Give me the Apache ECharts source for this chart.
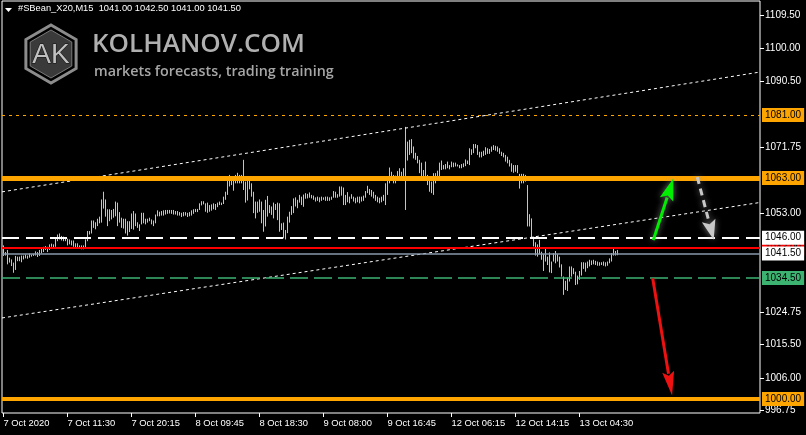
<!DOCTYPE html>
<html><head><meta charset="utf-8">
<script src="https://cdn.jsdelivr.net/npm/echarts@6/dist/echarts.min.js"></script>
<style>html,body{margin:0;padding:0;background:#000;}#c{width:806px;height:435px;}</style>
</head><body><div id="c"></div>
<script>
// ---- data ----
const timeLabels = ["7 Oct 2020","7 Oct 11:30","7 Oct 20:15","8 Oct 09:45","8 Oct 18:30","9 Oct 08:00","9 Oct 16:45","12 Oct 06:15","12 Oct 14:15","13 Oct 04:30"];
const timeLabelBars = [0,32,64,96,128,160,192,224,256,288];
const priceTicks = [1109.5,1100,1090.5,1071.75,1053,1024.75,1015.5,1006,996.75];

const highs = [
1043.8,1041.9,1042.5,1040.3,1039.8,1038.9,1040.8,1040.6,1040.6,1040.9,1040.9,1041.2,1040.9,1041.5,1041.2,1041.4,1042.1,1041.9,1042.5,1042.8,
1043.4,1043.6,1043.4,1044.1,1044.3,1044.1,1045.8,1046.9,1047.2,1046.5,1046.3,1046.0,1045.7,1045.5,1045.2,1045.2,1044.4,1044.4,1043.8,1043.8,
1043.8,1045.5,1047.9,1047.9,1050.9,1050.9,1050.4,1051.4,1052.0,1056.9,1059.1,
1056.9,1054.1,1054.1,1053.9,1054.2,1056.3,1056.0,1053.3,1051.7,1051.4,1051.4,1050.7,1050.7,1052.9,1053.6,1052.9,1050.4,1049.8,1053.1,1053.1,
1051.4,1051.4,1051.7,1051.2,1050.9,1052.6,1053.8,1053.4,1053.6,1053.8,1053.9,1053.9,1053.9,1053.9,1053.9,1053.6,1053.6,1053.3,1053.1,1053.3,
1053.3,1053.1,1053.3,1053.8,1054.1,1054.2,1054.2,1055.8,1056.4,1056.4,
1055.8,1056.0,1055.3,1055.5,1055.8,1055.6,1056.0,1056.3,1056.0,1057.7,
1059.1,1062.3,1063.9,1062.3,1063.2,1063.9,1064.5,1063.9,1063.9,1068.2,
1062.0,1062.5,1062.3,1061.5,1059.1,1056.3,1056.3,1056.9,1056.3,1053.9,
1056.8,1057.9,1055.3,1054.9,1056.0,1055.6,1056.0,1055.8,1050.1,1050.3,
1048.2,1052.0,1053.4,1055.0,1057.2,1057.5,1056.8,1058.2,1057.7,1058.3,
1058.7,1058.5,1058.9,1058.2,1058.0,1057.5,1057.7,1057.5,1057.7,1057.5,
1057.7,1057.7,1057.5,1057.7,1059.3,1059.1,1058.4,1060.6,1060.6,1060.3,
1058.2,1059.0,1057.7,1058.4,1057.7,1057.4,1057.7,1057.7,1057.7,1058.0,
1059.3,1060.8,1059.9,1059.6,1059.1,1058.2,1057.7,1057.4,1057.7,1058.2,
1061.5,1062.5,1066.0,1064.8,1063.9,1063.7,1065.0,1065.8,1064.8,1065.8,
1077.6,1073.4,1073.9,1074.1,1072.0,1070.2,1069.3,1068.2,1067.4,1065.3,
1067.7,1063.9,1062.5,1062.0,1064.4,1064.4,1065.1,1067.4,1068.0,1066.7,
1067.0,1067.7,1066.7,1067.7,1067.4,1067.4,1066.9,1066.7,1067.0,1067.2,
1068.3,1068.0,1071.5,1071.2,1072.7,1072.7,1072.4,1070.5,1070.5,1070.8,
1071.8,1071.5,1071.3,1072.0,1072.4,1072.2,1072.0,1071.5,1070.5,1070.2,
1069.6,1069.1,1068.2,1067.2,1066.7,1066.7,1066.7,1064.2,1064.2,1064.2,
1063.9,1061.0,1052.7,1051.5,1046.3,1044.7,1044.1,1045.4,1042.0,1041.3,
1043.2,1040.6,1041.8,1039.2,1041.6,1042.2,1041.3,1040.6,1038.4,1034.9,
1033.7,1034.6,1037.8,1037.8,1037.3,1036.3,1035.2,1036.5,1039.0,1039.0,
1038.9,1039.2,1039.7,1039.5,1039.7,1039.4,1039.2,1039.0,1039.0,1039.2,
1039.0,1039.2,1040.1,1041.6,1042.8,1042.2,1042.5
];
const lows = [
1040.8,1040.9,1038.4,1038.9,1037.9,1036.0,1036.8,1039.3,1039.3,1039.0,1039.8,1040.1,1040.0,1040.3,1040.6,1040.8,1040.9,1040.5,1040.8,1041.5,
1041.9,1042.5,1041.9,1042.5,1043.4,1043.3,1043.4,1045.0,1045.5,1045.2,1045.0,1045.0,1043.8,1044.1,1043.8,1043.4,1043.1,1043.1,1042.8,1042.7,
1042.7,1043.3,1045.0,1046.9,1047.2,1048.8,1048.4,1049.3,1050.1,1050.3,1054.3,
1052.0,1049.3,1050.7,1051.2,1051.7,1052.1,1049.3,1050.3,1048.8,1048.6,1047.2,1046.6,1047.6,1048.5,1048.3,1049.3,1048.8,1047.9,1049.8,1050.1,
1049.8,1050.3,1050.7,1049.8,1049.3,1050.1,1052.1,1052.1,1052.3,1052.3,1052.6,1052.8,1052.9,1052.8,1052.6,1052.6,1052.3,1052.3,1051.9,1052.1,
1052.3,1051.9,1052.1,1052.3,1052.8,1053.3,1053.3,1053.9,1055.2,1055.5,
1053.4,1053.1,1053.4,1053.7,1054.1,1053.9,1054.7,1055.3,1055.3,1055.6,
1056.8,1058.2,1060.6,1061.0,1059.4,1061.5,1061.5,1061.5,1061.5,1059.6,
1056.0,1056.6,1059.8,1057.7,1053.0,1051.5,1053.1,1053.4,1050.1,1047.7,
1049.2,1052.0,1053.0,1052.5,1051.5,1053.9,1051.0,1047.7,1048.2,1045.8,
1045.5,1047.3,1050.3,1052.5,1053.0,1054.9,1054.4,1056.0,1055.3,1054.8,
1057.1,1057.2,1057.4,1057.2,1056.8,1056.3,1056.5,1056.1,1056.5,1056.8,
1056.5,1056.5,1056.5,1056.8,1057.4,1057.4,1057.4,1057.7,1058.0,1055.3,
1055.3,1056.1,1055.8,1057.1,1056.3,1055.8,1056.1,1055.8,1056.3,1056.5,
1057.4,1058.7,1058.2,1057.7,1057.2,1056.5,1056.1,1055.8,1056.1,1056.5,
1055.3,1058.2,1061.5,1062.5,1061.5,1061.5,1063.0,1063.4,1063.0,1063.4,
1053.9,1068.0,1069.6,1070.1,1068.6,1068.2,1067.2,1064.4,1063.4,1062.5,
1063.6,1061.0,1059.1,1058.7,1058.2,1061.5,1062.9,1063.4,1065.3,1065.5,
1065.5,1065.8,1065.5,1066.1,1066.1,1066.3,1066.3,1065.8,1065.8,1066.1,
1066.4,1067.0,1066.7,1069.6,1070.1,1071.5,1069.6,1068.9,1068.9,1069.3,
1069.6,1069.9,1069.9,1070.5,1071.0,1070.8,1070.5,1069.9,1069.3,1068.9,
1067.7,1067.2,1066.3,1064.8,1064.5,1064.8,1064.4,1060.0,1061.5,1061.5,
1062.0,1049.2,1049.2,1045.8,1043.5,1040.9,1040.6,1041.3,1039.7,1036.5,
1039.2,1038.2,1036.1,1035.9,1039.2,1038.7,1039.2,1037.5,1034.9,1029.7,
1031.1,1030.8,1033.5,1034.9,1035.6,1032.5,1032.7,1034.0,1035.2,1037.1,
1036.3,1037.3,1037.8,1038.2,1038.4,1038.2,1038.0,1038.0,1038.2,1038.0,
1037.8,1038.0,1038.7,1039.2,1040.9,1040.9,1041.0
];

// horizontal levels
const levelResistHigh = 1081;
const levelResist = 1063;
const levelTarget = 1000;
const levelWhite = 1046;
const levelRed = 1043;
const levelBid = 1041.5;
const levelGreen = 1034.5;

// trend channel (bar index, price)
const trendUpper = [[-0.75, 1059.07], [378.25, 1093.23]];
const trendLower = [[-0.75, 1023.11], [378.25, 1056.04]];

// forecast arrows (bar index, price) : from -> to
const arrowGreenUp = [[324.9, 1045.3, 334.9, 1062.9]];
const arrowGrayDown = [[346.9, 1063.3, 355.1, 1045.4]];
const arrowRedDown = [[324.6, 1034.4, 334.3, 1001.0]];

const titleText = "#SBean_X20,M15  1041.00 1042.50 1041.00 1041.50";

// ---- chart ----
const chart = echarts.init(document.getElementById('c'), null, {renderer: 'canvas'});
const FONT = 'Liberation Sans, Arial, sans-serif';

function barItem(params, api) {
  const p1 = api.coord([api.value(0), api.value(1)]);
  const p2 = api.coord([api.value(0), api.value(2)]);
  return {type: 'line', shape: {x1: p1[0], y1: p1[1], x2: p2[0], y2: Math.min(p2[1], p1[1] - 1)},
    style: {stroke: '#c4c4c4', lineWidth: 1}};
}

function makeArrowRenderer(color, width, dash, headLen, headHalf, glow) {
  return function (params, api) {
    const a = api.coord([api.value(0), api.value(1)]);
    const b = api.coord([api.value(2), api.value(3)]);
    const dx = b[0] - a[0], dy = b[1] - a[1];
    const len = Math.sqrt(dx * dx + dy * dy);
    const ux = dx / len, uy = dy / len;
    const bx = b[0] - ux * headLen, by = b[1] - uy * headLen;
    const px = -uy, py = ux;
    const shadow = glow ? {shadowBlur: 6, shadowColor: 'rgba(150,150,150,0.8)'} : {};
    return {
      type: 'group',
      children: [
        {type: 'line', shape: {x1: a[0], y1: a[1], x2: bx + ux * 2, y2: by + uy * 2},
          style: Object.assign({stroke: color, lineWidth: width, lineDash: dash}, shadow)},
        {type: 'polygon', shape: {points: [[b[0], b[1]], [bx + px * headHalf, by + py * headHalf], [bx + ux * 4, by + uy * 4], [bx - px * headHalf, by - py * headHalf]]},
          style: Object.assign({fill: color}, shadow)}
      ]
    };
  };
}

function lvl(value, color, width, type, bg, fg) {
  return {
    yAxis: value,
    lineStyle: {color: color, width: width, type: type},
    label: {
      show: true, position: 'end', distance: 2,
      formatter: v => Number(v.value).toFixed(2),
      backgroundColor: bg, color: fg, padding: [2, 3, 1, 3],
      fontSize: 10, fontFamily: FONT, lineHeight: 11
    }
  };
}

function hex(cx, cy, r) {
  const pts = [];
  for (let k = 0; k < 6; k++) {
    const ang = Math.PI / 180 * (60 * k - 90);
    pts.push([cx + r * Math.cos(ang), cy + r * Math.sin(ang)]);
  }
  return pts;
}

const option = {
  backgroundColor: '#000',
  animation: false,
  grid: {left: 2, top: 1, right: 46, bottom: 22, show: true, borderColor: '#ffffff', borderWidth: 1, backgroundColor: 'transparent'},
  xAxis: {
    type: 'value', min: -0.75, max: 378.25,
    axisLine: {show: false, onZero: false},
    splitLine: {show: false},
    axisTick: {show: true, customValues: timeLabelBars, length: 4, lineStyle: {color: '#fff'}},
    axisLabel: {show: true, customValues: timeLabelBars, color: '#fff', fontSize: 9.4, fontFamily: FONT, align: 'left', margin: 6,
      formatter: v => timeLabels[timeLabelBars.indexOf(v)] || ''}
  },
  yAxis: {
    type: 'value', position: 'right', min: 996.01, max: 1113.49, scale: true,
    axisLine: {show: false, onZero: false},
    splitLine: {show: false},
    axisTick: {show: true, customValues: priceTicks, length: 4, lineStyle: {color: '#fff'}},
    axisLabel: {show: true, customValues: priceTicks, color: '#fff', fontSize: 10, fontFamily: FONT, margin: 5,
      formatter: v => Number(v).toFixed(2)}
  },
  graphic: [
    {type: 'polygon', left: 5, top: 8, shape: {points: [[0, 0], [7, 0], [3.5, 4]]}, style: {fill: '#fff'}},
    {type: 'text', left: 18, top: 4, style: {text: titleText, fill: '#fff', font: '9.3px ' + FONT}},
    {type: 'polygon', shape: {points: hex(51, 54, 29)}, style: {fill: '#000', stroke: '#8c8c8c', lineWidth: 3}},
    {type: 'polygon', shape: {points: hex(51, 54, 24)}, style: {fill: '#3a3a3a', stroke: '#7a7a7a', lineWidth: 1}},
    {type: 'text', x: 51, y: 55, style: {text: 'AK', fill: '#c0c0c0', stroke: '#111', lineWidth: 1, font: '28px Liberation Sans, Arial, sans-serif', align: 'center', verticalAlign: 'middle'}},
    {type: 'text', x: 92, y: 58, style: {text: 'KOLHANOV.COM', fill: '#b0b0b0', font: '600 26px "Open Sans", sans-serif', verticalAlign: 'bottom'}},
    {type: 'text', x: 94, y: 79, style: {text: 'markets forecasts, trading training', fill: '#a6a6a6', font: '600 14.3px "Open Sans", sans-serif', verticalAlign: 'bottom'}}
  ],
  series: [
    {
      type: 'custom', name: 'bars', renderItem: barItem, z: 2,
      encode: {x: 0, y: [1, 2]},
      data: highs.map((h, i) => [i, lows[i], h]),
      silent: true
    },
    {
      type: 'line', name: 'trendUpper', data: trendUpper, showSymbol: false, z: 3, silent: true,
      lineStyle: {color: '#fff', width: 1, type: [3, 3]}
    },
    {
      type: 'line', name: 'trendLower', data: trendLower, showSymbol: false, z: 3, silent: true,
      lineStyle: {color: '#fff', width: 1, type: [3, 3]}
    },
    {
      type: 'line', name: 'levels', data: [], z: 4, silent: true,
      markLine: {
        silent: true, symbol: ['none', 'none'], animation: false,
        emphasis: {disabled: true},
        data: [
          lvl(levelResistHigh, '#ffa500', 1, [3, 4], '#ffa500', '#000'),
          lvl(levelGreen, '#3cb371', 1.5, [18, 6], '#3cb371', '#000'),
          lvl(levelRed, '#ff0000', 2, 'solid', '#ff0000', '#000'),
          lvl(levelWhite, '#ffffff', 2, [17, 7], '#ffffff', '#000'),
          lvl(levelBid, '#8899aa', 1.5, 'solid', '#ffffff', '#000'),
          lvl(levelResist, '#ffa500', 5, 'solid', '#ffa500', '#000'),
          lvl(levelTarget, '#ffa500', 4, 'solid', '#ffa500', '#000')
        ]
      }
    },
    {type: 'custom', name: 'arrowGreen', z: 6, silent: true, encode: {x: [0, 2], y: [1, 3]},
      renderItem: makeArrowRenderer('#00ee00', 3, null, 22, 7, true), data: arrowGreenUp},
    {type: 'custom', name: 'arrowGray', z: 6, silent: true, encode: {x: [0, 2], y: [1, 3]},
      renderItem: makeArrowRenderer('#c8c8c8', 3, [7, 5], 20, 7, true), data: arrowGrayDown},
    {type: 'custom', name: 'arrowRed', z: 6, silent: true, encode: {x: [0, 2], y: [1, 3]},
      renderItem: makeArrowRenderer('#ee1111', 3, null, 24, 6, false), data: arrowRedDown}
  ]
};
chart.setOption(option);
</script></body></html>
